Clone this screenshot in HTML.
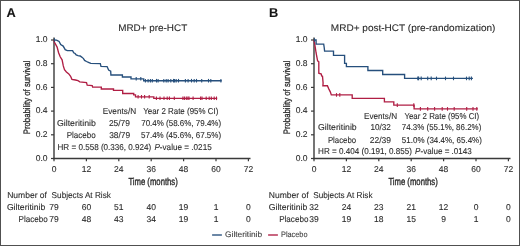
<!DOCTYPE html>
<html><head><meta charset="utf-8"><style>
html,body{margin:0;padding:0;background:#fff;}
body{width:520px;height:246px;overflow:hidden;}
svg{display:block;will-change:transform;}
text{font-family:"Liberation Sans",sans-serif;fill:#2b2b2b;text-rendering:geometricPrecision;stroke:#2b2b2b;stroke-width:0.1px;}
</style></head><body>
<svg width="520" height="246" viewBox="0 0 520 246">
<rect x="0" y="0" width="520" height="246" fill="#fff"/>
<text x="6.6" y="16.9" font-size="12.8" font-weight="bold" style="fill:#141414;stroke:#141414">A</text><text x="118.2" y="31.2" font-size="9.6" textLength="69" lengthAdjust="spacingAndGlyphs">MRD+ pre-HCT</text><line x1="54" y1="37.5" x2="54" y2="159.2" stroke="#3a3a3a" stroke-width="1.4"/><line x1="53.3" y1="158.5" x2="250.5" y2="158.5" stroke="#3a3a3a" stroke-width="1.4"/><line x1="51" y1="158.5" x2="54" y2="158.5" stroke="#3a3a3a" stroke-width="1.2"/><text x="47.5" y="160.6" font-size="8.5" text-anchor="end">0.0</text><line x1="51" y1="134.8" x2="54" y2="134.8" stroke="#3a3a3a" stroke-width="1.2"/><text x="47.5" y="136.9" font-size="8.5" text-anchor="end">0.2</text><line x1="51" y1="111.1" x2="54" y2="111.1" stroke="#3a3a3a" stroke-width="1.2"/><text x="47.5" y="113.2" font-size="8.5" text-anchor="end">0.4</text><line x1="51" y1="87.4" x2="54" y2="87.4" stroke="#3a3a3a" stroke-width="1.2"/><text x="47.5" y="89.5" font-size="8.5" text-anchor="end">0.6</text><line x1="51" y1="63.7" x2="54" y2="63.7" stroke="#3a3a3a" stroke-width="1.2"/><text x="47.5" y="65.8" font-size="8.5" text-anchor="end">0.8</text><line x1="51" y1="40.0" x2="54" y2="40.0" stroke="#3a3a3a" stroke-width="1.2"/><text x="47.5" y="42.1" font-size="8.5" text-anchor="end">1.0</text><line x1="54.0" y1="158.5" x2="54.0" y2="161.3" stroke="#3a3a3a" stroke-width="1.2"/><text x="54.0" y="171.7" font-size="8.5" text-anchor="middle">0</text><line x1="86.4" y1="158.5" x2="86.4" y2="161.3" stroke="#3a3a3a" stroke-width="1.2"/><text x="86.4" y="171.7" font-size="8.5" text-anchor="middle">12</text><line x1="118.8" y1="158.5" x2="118.8" y2="161.3" stroke="#3a3a3a" stroke-width="1.2"/><text x="118.8" y="171.7" font-size="8.5" text-anchor="middle">24</text><line x1="151.2" y1="158.5" x2="151.2" y2="161.3" stroke="#3a3a3a" stroke-width="1.2"/><text x="151.2" y="171.7" font-size="8.5" text-anchor="middle">36</text><line x1="183.6" y1="158.5" x2="183.6" y2="161.3" stroke="#3a3a3a" stroke-width="1.2"/><text x="183.6" y="171.7" font-size="8.5" text-anchor="middle">48</text><line x1="216.0" y1="158.5" x2="216.0" y2="161.3" stroke="#3a3a3a" stroke-width="1.2"/><text x="216.0" y="171.7" font-size="8.5" text-anchor="middle">60</text><line x1="248.4" y1="158.5" x2="248.4" y2="161.3" stroke="#3a3a3a" stroke-width="1.2"/><text x="248.4" y="171.7" font-size="8.5" text-anchor="middle">72</text><text x="0" y="0" font-size="9.4" style="stroke-width:0.3px" textLength="73.5" lengthAdjust="spacingAndGlyphs" text-anchor="middle" transform="translate(30.1,97.5) rotate(-90)">Probability of survival</text><text x="128.4" y="185.4" font-size="10.2" textLength="49.4" lengthAdjust="spacingAndGlyphs" style="stroke-width:0.35px">Time (months)</text><polyline points="54.0,40.0 54.6,42.6 57.1,47.1 58.6,52.7 60.2,56.8 62.1,59.8 63.3,65.9 64.5,69.6 66.4,72.0 68.8,73.9 70.6,76.3 71.9,79.3 75.5,80.0 78.0,80.6 79.8,81.8 86.5,82.5 87.2,85.2 92.2,85.6 92.6,87.0 101.3,87.2 101.3,89.0 113.5,89.0 113.5,90.3 122.7,90.3 122.7,93.5 133.7,93.5 133.7,94.8 135.5,94.8 135.5,96.8 153.8,96.8 153.8,98.3 217.2,98.3" fill="none" stroke="#b01e44" stroke-width="1.35" stroke-linejoin="miter"/><line x1="138.1" y1="95.00" x2="138.1" y2="98.60" stroke="#b01e44" stroke-width="1.1"/><line x1="141.5" y1="95.00" x2="141.5" y2="98.60" stroke="#b01e44" stroke-width="1.1"/><line x1="144.6" y1="95.00" x2="144.6" y2="98.60" stroke="#b01e44" stroke-width="1.1"/><line x1="149.2" y1="95.00" x2="149.2" y2="98.60" stroke="#b01e44" stroke-width="1.1"/><line x1="156.4" y1="96.50" x2="156.4" y2="100.10" stroke="#b01e44" stroke-width="1.1"/><line x1="160" y1="96.50" x2="160" y2="100.10" stroke="#b01e44" stroke-width="1.1"/><line x1="164" y1="96.50" x2="164" y2="100.10" stroke="#b01e44" stroke-width="1.1"/><line x1="167.2" y1="96.50" x2="167.2" y2="100.10" stroke="#b01e44" stroke-width="1.1"/><line x1="169.4" y1="96.50" x2="169.4" y2="100.10" stroke="#b01e44" stroke-width="1.1"/><line x1="174.3" y1="96.50" x2="174.3" y2="100.10" stroke="#b01e44" stroke-width="1.1"/><line x1="182.9" y1="96.50" x2="182.9" y2="100.10" stroke="#b01e44" stroke-width="1.1"/><line x1="184.4" y1="96.50" x2="184.4" y2="100.10" stroke="#b01e44" stroke-width="1.1"/><line x1="186.3" y1="96.50" x2="186.3" y2="100.10" stroke="#b01e44" stroke-width="1.1"/><line x1="187.9" y1="96.50" x2="187.9" y2="100.10" stroke="#b01e44" stroke-width="1.1"/><line x1="189" y1="96.50" x2="189" y2="100.10" stroke="#b01e44" stroke-width="1.1"/><line x1="193.1" y1="96.50" x2="193.1" y2="100.10" stroke="#b01e44" stroke-width="1.1"/><line x1="200.6" y1="96.50" x2="200.6" y2="100.10" stroke="#b01e44" stroke-width="1.1"/><line x1="202" y1="96.50" x2="202" y2="100.10" stroke="#b01e44" stroke-width="1.1"/><line x1="206.2" y1="96.50" x2="206.2" y2="100.10" stroke="#b01e44" stroke-width="1.1"/><line x1="209.2" y1="96.50" x2="209.2" y2="100.10" stroke="#b01e44" stroke-width="1.1"/><line x1="211.3" y1="96.50" x2="211.3" y2="100.10" stroke="#b01e44" stroke-width="1.1"/><line x1="214.2" y1="96.50" x2="214.2" y2="100.10" stroke="#b01e44" stroke-width="1.1"/><line x1="216.5" y1="96.50" x2="216.5" y2="100.10" stroke="#b01e44" stroke-width="1.1"/><polyline points="54.0,40.0 56.5,40.2 57.5,40.6 59.1,41.4 60.7,44.6 63.2,46.1 65.2,49.7 67.3,50.6 72.6,50.6 73.7,52.8 75.1,53.5 76.2,55.0 78.0,55.7 80.2,56.0 81.7,57.1 83.5,58.6 84.6,60.4 86.5,61.5 89.0,62.6 90.8,63.4 100.3,63.6 101.0,66.4 107.1,66.6 108.6,70.1 110.7,71.1 110.9,75.0 122.4,75.0 122.4,77.0 131.0,77.0 131.0,78.8 143.7,78.8 143.7,80.7 221.7,80.7" fill="none" stroke="#264f7c" stroke-width="1.35" stroke-linejoin="miter"/><line x1="136.2" y1="77.00" x2="136.2" y2="80.60" stroke="#264f7c" stroke-width="1.1"/><line x1="140.8" y1="77.00" x2="140.8" y2="80.60" stroke="#264f7c" stroke-width="1.1"/><line x1="145.4" y1="78.90" x2="145.4" y2="82.50" stroke="#264f7c" stroke-width="1.1"/><line x1="148.1" y1="78.90" x2="148.1" y2="82.50" stroke="#264f7c" stroke-width="1.1"/><line x1="150.4" y1="78.90" x2="150.4" y2="82.50" stroke="#264f7c" stroke-width="1.1"/><line x1="152.3" y1="78.90" x2="152.3" y2="82.50" stroke="#264f7c" stroke-width="1.1"/><line x1="156.5" y1="78.90" x2="156.5" y2="82.50" stroke="#264f7c" stroke-width="1.1"/><line x1="158.1" y1="78.90" x2="158.1" y2="82.50" stroke="#264f7c" stroke-width="1.1"/><line x1="163.8" y1="78.90" x2="163.8" y2="82.50" stroke="#264f7c" stroke-width="1.1"/><line x1="166.2" y1="78.90" x2="166.2" y2="82.50" stroke="#264f7c" stroke-width="1.1"/><line x1="168.1" y1="78.90" x2="168.1" y2="82.50" stroke="#264f7c" stroke-width="1.1"/><line x1="170.8" y1="78.90" x2="170.8" y2="82.50" stroke="#264f7c" stroke-width="1.1"/><line x1="173.5" y1="78.90" x2="173.5" y2="82.50" stroke="#264f7c" stroke-width="1.1"/><line x1="174.6" y1="78.90" x2="174.6" y2="82.50" stroke="#264f7c" stroke-width="1.1"/><line x1="176.2" y1="78.90" x2="176.2" y2="82.50" stroke="#264f7c" stroke-width="1.1"/><line x1="178.5" y1="78.90" x2="178.5" y2="82.50" stroke="#264f7c" stroke-width="1.1"/><line x1="185.4" y1="78.90" x2="185.4" y2="82.50" stroke="#264f7c" stroke-width="1.1"/><line x1="188.1" y1="78.90" x2="188.1" y2="82.50" stroke="#264f7c" stroke-width="1.1"/><line x1="191.5" y1="78.90" x2="191.5" y2="82.50" stroke="#264f7c" stroke-width="1.1"/><line x1="194.2" y1="78.90" x2="194.2" y2="82.50" stroke="#264f7c" stroke-width="1.1"/><line x1="196.5" y1="78.90" x2="196.5" y2="82.50" stroke="#264f7c" stroke-width="1.1"/><line x1="201.7" y1="78.90" x2="201.7" y2="82.50" stroke="#264f7c" stroke-width="1.1"/><line x1="208.5" y1="78.90" x2="208.5" y2="82.50" stroke="#264f7c" stroke-width="1.1"/><line x1="210.8" y1="78.90" x2="210.8" y2="82.50" stroke="#264f7c" stroke-width="1.1"/><line x1="220.9" y1="78.90" x2="220.9" y2="82.50" stroke="#264f7c" stroke-width="1.1"/><line x1="54.5" y1="38.2" x2="54.5" y2="41.8" stroke="#264f7c" stroke-width="1.0"/><text x="102.8" y="114.2" font-size="8.5" textLength="33.3" lengthAdjust="spacingAndGlyphs">Events/N</text><text x="143.2" y="114.2" font-size="8.5" textLength="75.1" lengthAdjust="spacingAndGlyphs">Year 2 Rate (95% CI)</text><text x="57" y="125.7" font-size="8.5" textLength="38.9" lengthAdjust="spacingAndGlyphs">Gilteritinib</text><text x="108.9" y="125.7" font-size="8.5" textLength="21.1" lengthAdjust="spacingAndGlyphs">25/79</text><text x="141.2" y="125.7" font-size="8.5" textLength="79.9" lengthAdjust="spacingAndGlyphs">70.4% (58.6%, 79.4%)</text><text x="66.7" y="138" font-size="8.5" textLength="29.1" lengthAdjust="spacingAndGlyphs">Placebo</text><text x="109.2" y="138" font-size="8.5" textLength="21" lengthAdjust="spacingAndGlyphs">38/79</text><text x="141.0" y="138" font-size="8.5" textLength="80.1" lengthAdjust="spacingAndGlyphs">57.4% (45.6%, 67.5%)</text><text x="57.5" y="150" font-size="8.5" textLength="93.8" lengthAdjust="spacingAndGlyphs">HR = 0.558 (0.336, 0.924)</text><text x="154.4" y="150" font-size="8.5" textLength="57.3" lengthAdjust="spacingAndGlyphs"><tspan font-style="italic">P</tspan>-value = .0215</text><text x="7.2" y="198.3" font-size="8.5" textLength="39.8" lengthAdjust="spacingAndGlyphs">Number of</text><text x="51.6" y="198.3" font-size="8.5" textLength="59.3" lengthAdjust="spacingAndGlyphs">Subjects At Risk</text><text x="6.9" y="210.2" font-size="8.5" textLength="38.4" lengthAdjust="spacingAndGlyphs">Gilteritinib</text><text x="18.5" y="221.9" font-size="8.5" textLength="29.2" lengthAdjust="spacingAndGlyphs">Placebo</text><text x="54.0" y="210.2" font-size="8.5" text-anchor="middle">79</text><text x="54.0" y="221.9" font-size="8.5" text-anchor="middle">79</text><text x="86.4" y="210.2" font-size="8.5" text-anchor="middle">60</text><text x="86.4" y="221.9" font-size="8.5" text-anchor="middle">48</text><text x="118.8" y="210.2" font-size="8.5" text-anchor="middle">51</text><text x="118.8" y="221.9" font-size="8.5" text-anchor="middle">43</text><text x="151.2" y="210.2" font-size="8.5" text-anchor="middle">40</text><text x="151.2" y="221.9" font-size="8.5" text-anchor="middle">34</text><text x="183.6" y="210.2" font-size="8.5" text-anchor="middle">19</text><text x="183.6" y="221.9" font-size="8.5" text-anchor="middle">19</text><text x="216.0" y="210.2" font-size="8.5" text-anchor="middle">1</text><text x="216.0" y="221.9" font-size="8.5" text-anchor="middle">1</text><text x="248.4" y="210.2" font-size="8.5" text-anchor="middle">0</text><text x="248.4" y="221.9" font-size="8.5" text-anchor="middle">0</text><text x="269.0" y="16.9" font-size="12.8" font-weight="bold" style="fill:#141414;stroke:#141414">B</text><text x="330.8" y="31.2" font-size="9.6" textLength="164.6" lengthAdjust="spacingAndGlyphs">MRD+ post-HCT (pre-randomization)</text><line x1="314" y1="37.5" x2="314" y2="159.2" stroke="#3a3a3a" stroke-width="1.4"/><line x1="313.3" y1="158.5" x2="510.5" y2="158.5" stroke="#3a3a3a" stroke-width="1.4"/><line x1="311" y1="158.5" x2="314" y2="158.5" stroke="#3a3a3a" stroke-width="1.2"/><text x="307.5" y="160.6" font-size="8.5" text-anchor="end">0.0</text><line x1="311" y1="134.8" x2="314" y2="134.8" stroke="#3a3a3a" stroke-width="1.2"/><text x="307.5" y="136.9" font-size="8.5" text-anchor="end">0.2</text><line x1="311" y1="111.1" x2="314" y2="111.1" stroke="#3a3a3a" stroke-width="1.2"/><text x="307.5" y="113.2" font-size="8.5" text-anchor="end">0.4</text><line x1="311" y1="87.4" x2="314" y2="87.4" stroke="#3a3a3a" stroke-width="1.2"/><text x="307.5" y="89.5" font-size="8.5" text-anchor="end">0.6</text><line x1="311" y1="63.7" x2="314" y2="63.7" stroke="#3a3a3a" stroke-width="1.2"/><text x="307.5" y="65.8" font-size="8.5" text-anchor="end">0.8</text><line x1="311" y1="40.0" x2="314" y2="40.0" stroke="#3a3a3a" stroke-width="1.2"/><text x="307.5" y="42.1" font-size="8.5" text-anchor="end">1.0</text><line x1="314.0" y1="158.5" x2="314.0" y2="161.3" stroke="#3a3a3a" stroke-width="1.2"/><text x="314.0" y="171.7" font-size="8.5" text-anchor="middle">0</text><line x1="346.4" y1="158.5" x2="346.4" y2="161.3" stroke="#3a3a3a" stroke-width="1.2"/><text x="346.4" y="171.7" font-size="8.5" text-anchor="middle">12</text><line x1="378.8" y1="158.5" x2="378.8" y2="161.3" stroke="#3a3a3a" stroke-width="1.2"/><text x="378.8" y="171.7" font-size="8.5" text-anchor="middle">24</text><line x1="411.2" y1="158.5" x2="411.2" y2="161.3" stroke="#3a3a3a" stroke-width="1.2"/><text x="411.2" y="171.7" font-size="8.5" text-anchor="middle">36</text><line x1="443.6" y1="158.5" x2="443.6" y2="161.3" stroke="#3a3a3a" stroke-width="1.2"/><text x="443.6" y="171.7" font-size="8.5" text-anchor="middle">48</text><line x1="476.0" y1="158.5" x2="476.0" y2="161.3" stroke="#3a3a3a" stroke-width="1.2"/><text x="476.0" y="171.7" font-size="8.5" text-anchor="middle">60</text><line x1="508.4" y1="158.5" x2="508.4" y2="161.3" stroke="#3a3a3a" stroke-width="1.2"/><text x="508.4" y="171.7" font-size="8.5" text-anchor="middle">72</text><text x="0" y="0" font-size="9.4" style="stroke-width:0.3px" textLength="73.5" lengthAdjust="spacingAndGlyphs" text-anchor="middle" transform="translate(290.1,97.5) rotate(-90)">Probability of survival</text><text x="388.4" y="185.4" font-size="10.2" textLength="49.4" lengthAdjust="spacingAndGlyphs" style="stroke-width:0.35px">Time (months)</text><polyline points="314.0,40.0 314.9,45.0 316.1,53.0 317.6,60.9 318.8,61.8 318.8,73.2 321.3,74.0 321.6,75.9 322.5,76.2 323.1,83.0 322.9,85.7 327.4,85.7 328.9,89.1 330.4,92.1 331.3,94.9 352.2,94.9 352.2,98.3 384.4,98.3 384.4,101.8 393.8,101.8 393.8,105.1 414.1,105.1 414.1,108.9 477.9,108.9" fill="none" stroke="#b01e44" stroke-width="1.35" stroke-linejoin="miter"/><line x1="336.5" y1="93.10" x2="336.5" y2="96.70" stroke="#b01e44" stroke-width="1.1"/><line x1="339.8" y1="93.10" x2="339.8" y2="96.70" stroke="#b01e44" stroke-width="1.1"/><line x1="397.3" y1="103.30" x2="397.3" y2="106.90" stroke="#b01e44" stroke-width="1.1"/><line x1="413.8" y1="103.30" x2="413.8" y2="106.90" stroke="#b01e44" stroke-width="1.1"/><line x1="420.4" y1="107.10" x2="420.4" y2="110.70" stroke="#b01e44" stroke-width="1.1"/><line x1="427.7" y1="107.10" x2="427.7" y2="110.70" stroke="#b01e44" stroke-width="1.1"/><line x1="434.6" y1="107.10" x2="434.6" y2="110.70" stroke="#b01e44" stroke-width="1.1"/><line x1="442.2" y1="107.10" x2="442.2" y2="110.70" stroke="#b01e44" stroke-width="1.1"/><line x1="447.5" y1="107.10" x2="447.5" y2="110.70" stroke="#b01e44" stroke-width="1.1"/><line x1="454.2" y1="107.10" x2="454.2" y2="110.70" stroke="#b01e44" stroke-width="1.1"/><line x1="466.7" y1="107.10" x2="466.7" y2="110.70" stroke="#b01e44" stroke-width="1.1"/><line x1="473" y1="107.10" x2="473" y2="110.70" stroke="#b01e44" stroke-width="1.1"/><line x1="476.8" y1="107.10" x2="476.8" y2="110.70" stroke="#b01e44" stroke-width="1.1"/><polyline points="314.0,40.0 316.1,40.0 316.1,44.1 323.7,44.1 324.2,47.5 324.6,51.1 333.5,51.1 333.5,55.3 344.6,55.3 344.6,63.4 346.4,63.4 346.4,66.6 367.9,66.6 367.9,70.5 382.7,70.5 382.7,74.5 404.6,74.5 404.6,78.4 472.9,78.4" fill="none" stroke="#264f7c" stroke-width="1.35" stroke-linejoin="miter"/><line x1="417.8" y1="76.60" x2="417.8" y2="80.20" stroke="#264f7c" stroke-width="1.1"/><line x1="418.6" y1="76.60" x2="418.6" y2="80.20" stroke="#264f7c" stroke-width="1.1"/><line x1="421.2" y1="76.60" x2="421.2" y2="80.20" stroke="#264f7c" stroke-width="1.1"/><line x1="427.7" y1="76.60" x2="427.7" y2="80.20" stroke="#264f7c" stroke-width="1.1"/><line x1="431.2" y1="76.60" x2="431.2" y2="80.20" stroke="#264f7c" stroke-width="1.1"/><line x1="436.5" y1="76.60" x2="436.5" y2="80.20" stroke="#264f7c" stroke-width="1.1"/><line x1="445.5" y1="76.60" x2="445.5" y2="80.20" stroke="#264f7c" stroke-width="1.1"/><line x1="453.5" y1="76.60" x2="453.5" y2="80.20" stroke="#264f7c" stroke-width="1.1"/><line x1="466.5" y1="76.60" x2="466.5" y2="80.20" stroke="#264f7c" stroke-width="1.1"/><line x1="469.2" y1="76.60" x2="469.2" y2="80.20" stroke="#264f7c" stroke-width="1.1"/><line x1="471.4" y1="76.60" x2="471.4" y2="80.20" stroke="#264f7c" stroke-width="1.1"/><line x1="314.5" y1="38.2" x2="314.5" y2="41.8" stroke="#264f7c" stroke-width="1.0"/><text x="364" y="119" font-size="8.5" textLength="33.1" lengthAdjust="spacingAndGlyphs">Events/N</text><text x="404.4" y="119" font-size="8.5" textLength="74.8" lengthAdjust="spacingAndGlyphs">Year 2 Rate (95% CI)</text><text x="318.1" y="130.2" font-size="8.5" textLength="38.6" lengthAdjust="spacingAndGlyphs">Gilteritinib</text><text x="370.4" y="130.2" font-size="8.5" textLength="20.5" lengthAdjust="spacingAndGlyphs">10/32</text><text x="401.8" y="130.2" font-size="8.5" textLength="79.5" lengthAdjust="spacingAndGlyphs">74.3% (55.1%, 86.2%)</text><text x="327.9" y="142.8" font-size="8.5" textLength="28.2" lengthAdjust="spacingAndGlyphs">Placebo</text><text x="369.8" y="142.8" font-size="8.5" textLength="21.3" lengthAdjust="spacingAndGlyphs">22/39</text><text x="401.8" y="142.8" font-size="8.5" textLength="80.1" lengthAdjust="spacingAndGlyphs">51.0% (34.4%, 65.4%)</text><text x="318.1" y="154.4" font-size="8.5" textLength="93.8" lengthAdjust="spacingAndGlyphs">HR = 0.404 (0.191, 0.855)</text><text x="415.1" y="154.4" font-size="8.5" textLength="56.7" lengthAdjust="spacingAndGlyphs"><tspan font-style="italic">P</tspan>-value = .0143</text><text x="268.8" y="198.3" font-size="8.5" textLength="39.8" lengthAdjust="spacingAndGlyphs">Number of</text><text x="313.2" y="198.3" font-size="8.5" textLength="59.3" lengthAdjust="spacingAndGlyphs">Subjects At Risk</text><text x="268.8" y="210.2" font-size="8.5" textLength="38.4" lengthAdjust="spacingAndGlyphs">Gilteritinib</text><text x="279.2" y="221.9" font-size="8.5" textLength="29.2" lengthAdjust="spacingAndGlyphs">Placebo</text><text x="314.0" y="210.2" font-size="8.5" text-anchor="middle">32</text><text x="314.0" y="221.9" font-size="8.5" text-anchor="middle">39</text><text x="346.4" y="210.2" font-size="8.5" text-anchor="middle">24</text><text x="346.4" y="221.9" font-size="8.5" text-anchor="middle">19</text><text x="378.8" y="210.2" font-size="8.5" text-anchor="middle">23</text><text x="378.8" y="221.9" font-size="8.5" text-anchor="middle">18</text><text x="411.2" y="210.2" font-size="8.5" text-anchor="middle">21</text><text x="411.2" y="221.9" font-size="8.5" text-anchor="middle">15</text><text x="443.6" y="210.2" font-size="8.5" text-anchor="middle">12</text><text x="443.6" y="221.9" font-size="8.5" text-anchor="middle">9</text><text x="476.0" y="210.2" font-size="8.5" text-anchor="middle">0</text><text x="476.0" y="221.9" font-size="8.5" text-anchor="middle">1</text><text x="508.4" y="210.2" font-size="8.5" text-anchor="middle">0</text><text x="508.4" y="221.9" font-size="8.5" text-anchor="middle">0</text><line x1="212.1" y1="235" x2="221.9" y2="235" stroke="#264f7c" stroke-width="1.5" opacity="0.9"/><text x="225.1" y="237.1" font-size="8" textLength="37" lengthAdjust="spacingAndGlyphs" style="fill:#3c3c3c;stroke:#3c3c3c">Gilteritinib</text><line x1="268.1" y1="235" x2="277.9" y2="235" stroke="#b01e44" stroke-width="1.5" opacity="0.9"/><text x="281" y="237.1" font-size="8" textLength="26.5" lengthAdjust="spacingAndGlyphs" style="fill:#3c3c3c;stroke:#3c3c3c">Placebo</text>
<rect x="0.5" y="0.5" width="519" height="245" fill="none" stroke="#505050" stroke-width="1"/>
</svg>
</body></html>
